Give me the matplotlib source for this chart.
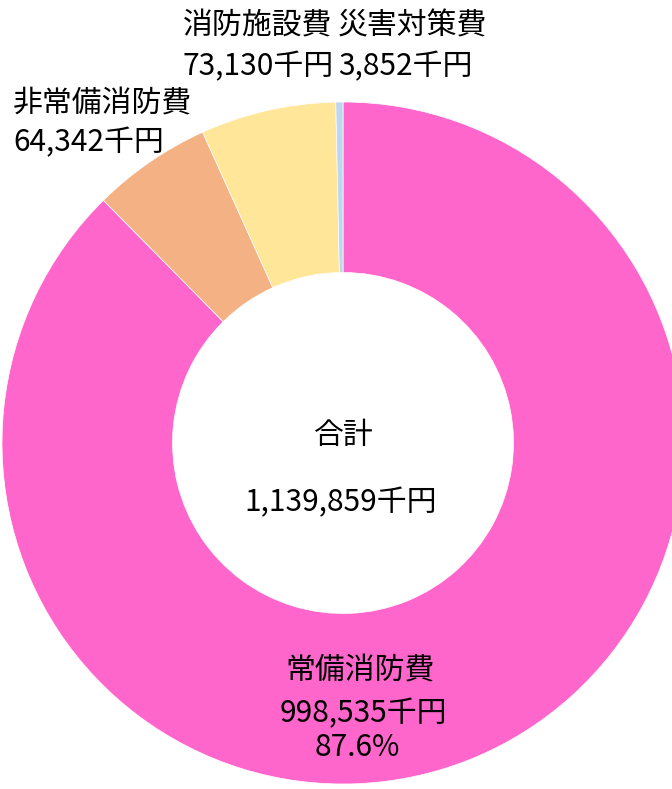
import matplotlib
matplotlib.use("Agg")
import matplotlib.pyplot as plt

plt.rcParams['font.family'] = ['Noto Sans CJK JP', 'DejaVu Sans']

categories = ['常備消防費', '非常備消防費', '消防施設費', '災害対策費']
values = [998535, 64342, 73130, 3852]
colors = ['#FF66CC', '#F4B183', '#FFE699', '#BDD7EE']
total_label = '合計'

W, H = 672, 789
fig = plt.figure(figsize=(W / 100, H / 100), dpi=100)
ax = fig.add_axes([0, 0, 1, 1])

cx, cy, R = 343, 443, 341  # pixels
ax.pie(values, colors=colors, startangle=90, counterclock=False, radius=1,
       wedgeprops=dict(width=0.5, edgecolor='white', linewidth=0.5))
ax.set_aspect('auto')
ax.set_xlim(-cx / R, (W - cx) / R)
ax.set_ylim(-(H - cy) / R, cy / R)
ax.axis('off')

total = sum(values)
fs = 21.5

def px(x, y, s, ha='left'):
    fig.text(x / W, 1 - y / H, s, ha=ha, va='center', fontsize=fs, color='black')

def fmt(v):
    return f'{v:,}千円'

# 消防施設費
px(183, 26, categories[2])
px(183, 67, fmt(values[2]))
# 災害対策費
px(338, 26, categories[3])
px(338, 67, fmt(values[3]))
# 非常備消防費
px(13, 104, categories[1])
px(13, 143, fmt(values[1]))
# 常備消防費
px(360, 671, categories[0], ha='center')
px(363, 714, fmt(values[0]), ha='center')
px(357, 747, f'{values[0] / total * 100:.1f}%', ha='center')
# center
px(344, 435, total_label, ha='center')
px(341, 503, fmt(total), ha='center')

fig.savefig('out.png', dpi=100)
